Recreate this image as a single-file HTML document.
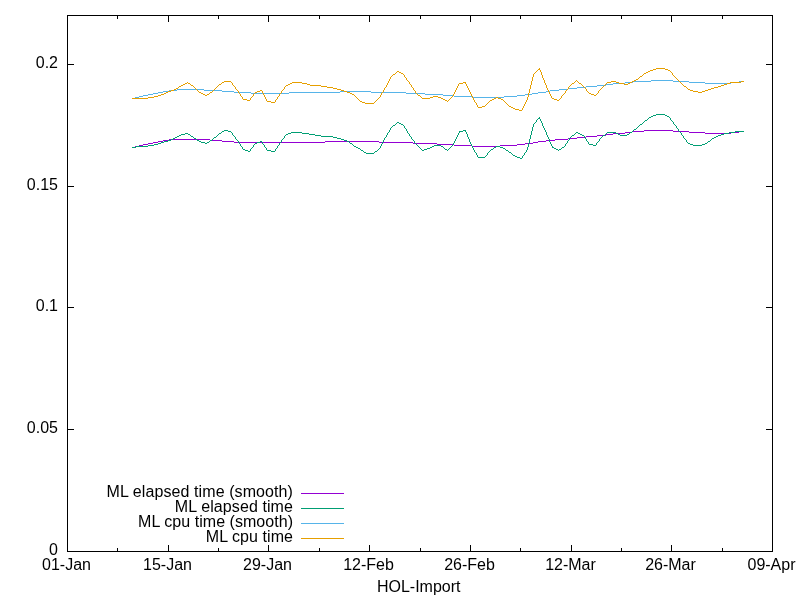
<!DOCTYPE html>
<html lang="en"><head><meta charset="utf-8"><title>HOL-Import</title>
<style>html,body{margin:0;padding:0;background:#fff;overflow:hidden}svg{display:block}</style></head>
<body>
<svg width="800" height="600" viewBox="0 0 800 600">
<rect width="800" height="600" fill="#fff"/>
<g fill="none" stroke="#000" stroke-width="1" shape-rendering="crispEdges"><rect x="67.5" y="15.5" width="705.0" height="536.0"/><path d="M67.0,551.5h7M773.0,551.5h-7M67.0,429.5h7M773.0,429.5h-7M67.0,307.5h7M773.0,307.5h-7M67.0,186.5h7M773.0,186.5h-7M67.0,64.5h7M773.0,64.5h-7M67.5,552.0v-7M67.5,15.0v7M117.5,552.0v-4M117.5,15.0v4M168.5,552.0v-7M168.5,15.0v7M218.5,552.0v-4M218.5,15.0v4M268.5,552.0v-7M268.5,15.0v7M319.5,552.0v-4M319.5,15.0v4M369.5,552.0v-7M369.5,15.0v7M420.5,552.0v-4M420.5,15.0v4M470.5,552.0v-7M470.5,15.0v7M520.5,552.0v-4M520.5,15.0v4M571.5,552.0v-7M571.5,15.0v7M621.5,552.0v-4M621.5,15.0v4M671.5,552.0v-7M671.5,15.0v7M722.5,552.0v-4M722.5,15.0v4M772.5,552.0v-7M772.5,15.0v7"/></g>
<g font-family="'Liberation Sans', Arial, sans-serif" font-size="16" fill="#000">
<text x="58" y="555.0" text-anchor="end">0</text>
<text x="58" y="433.0" text-anchor="end">0.05</text>
<text x="58" y="311.0" text-anchor="end">0.1</text>
<text x="58" y="190.0" text-anchor="end">0.15</text>
<text x="58" y="68.0" text-anchor="end">0.2</text>
<text x="66.5" y="570.3" text-anchor="middle">01-Jan</text>
<text x="167.5" y="570.3" text-anchor="middle">15-Jan</text>
<text x="267.5" y="570.3" text-anchor="middle">29-Jan</text>
<text x="368.5" y="570.3" text-anchor="middle">12-Feb</text>
<text x="469.5" y="570.3" text-anchor="middle">26-Feb</text>
<text x="570.5" y="570.3" text-anchor="middle">12-Mar</text>
<text x="670.5" y="570.3" text-anchor="middle">26-Mar</text>
<text x="771.5" y="570.3" text-anchor="middle">09-Apr</text>
<text x="418.7" y="591.8" text-anchor="middle">HOL-Import</text>
<text x="293" y="496.5" text-anchor="end" letter-spacing="0.09">ML elapsed time (smooth)</text>
<text x="293" y="511.5" text-anchor="end" letter-spacing="0.09">ML elapsed time</text>
<text x="293" y="526.5" text-anchor="end" letter-spacing="0.04">ML cpu time (smooth)</text>
<text x="293" y="541.5" text-anchor="end" letter-spacing="0.06">ML cpu time</text>
</g>
<g fill="none" stroke-width="1" shape-rendering="crispEdges">
<path stroke="#9400D3" d="M301,493.5H344"/>
<path stroke="#009E73" d="M301,508.5H344"/>
<path stroke="#56B4E9" d="M301,523.5H344"/>
<path stroke="#E69F00" d="M301,538.5H344"/>
<path stroke="#9400D3" d="M644,130.5h29M632,131.5h12M673,131.5h16M739,131.5h5M625,132.5h7M689,132.5h16M731,132.5h8M613,133.5h12M705,133.5h26M606,134.5h7M597,135.5h9M586,136.5h11M577,137.5h9M568,138.5h9M169,139.5h41M555,139.5h13M163,140.5h6M210,140.5h12M546,140.5h9M158,141.5h5M222,141.5h12M325,141.5h54M538,141.5h8M153,142.5h5M234,142.5h91M379,142.5h34M533,142.5h5M148,143.5h5M413,143.5h24M525,143.5h8M143,144.5h5M437,144.5h17M517,144.5h8M139,145.5h4M454,145.5h18M500,145.5h17M135,146.5h4M472,146.5h28M132,147.5h3"/>
<path stroke="#009E73" d="M656,114.5h9M653,115.5h3M665,115.5h2M651,116.5h2M667,116.5h2M649,117.5h2M538,118.5h2M645,120.5h2M397,122.5h2M399,123.5h2M401,124.5h2M640,124.5h2M393,125.5h2M634,129.5h2M224,130.5h4M463,130.5h3M222,131.5h2M228,131.5h3M459,131.5h4M735,131.5h9M291,132.5h11M576,132.5h2M607,132.5h9M630,132.5h2M729,132.5h6M185,133.5h3M219,133.5h2M288,133.5h3M302,133.5h7M578,133.5h2M616,133.5h2M724,133.5h5M181,134.5h4M188,134.5h2M286,134.5h2M309,134.5h6M580,134.5h2M618,134.5h2M627,134.5h2M721,134.5h3M179,135.5h2M315,135.5h6M572,135.5h2M582,135.5h2M603,135.5h2M620,135.5h7M718,135.5h3M177,136.5h2M191,136.5h2M321,136.5h12M716,136.5h2M175,137.5h2M214,137.5h2M333,137.5h4M714,137.5h2M173,138.5h2M194,138.5h2M337,138.5h4M712,138.5h2M171,139.5h2M341,139.5h3M168,140.5h3M197,140.5h2M210,140.5h2M344,140.5h3M164,141.5h4M199,141.5h2M260,141.5h2M347,141.5h2M708,141.5h2M161,142.5h3M201,142.5h4M207,142.5h2M257,142.5h3M158,143.5h3M205,143.5h2M255,143.5h2M350,143.5h2M688,143.5h2M705,143.5h2M154,144.5h4M589,144.5h4M690,144.5h3M702,144.5h3M148,145.5h6M434,145.5h7M593,145.5h3M693,145.5h9M136,146.5h12M354,146.5h2M432,146.5h2M441,146.5h2M496,146.5h4M132,147.5h4M356,147.5h2M430,147.5h2M494,147.5h2M500,147.5h3M552,147.5h2M562,147.5h2M358,148.5h2M427,148.5h3M503,148.5h2M554,148.5h2M243,149.5h2M424,149.5h3M445,149.5h2M491,149.5h2M556,149.5h2M559,149.5h2M245,150.5h3M267,150.5h4M361,150.5h2M422,150.5h2M506,150.5h2M248,151.5h2M271,151.5h4M375,151.5h2M364,152.5h2M509,152.5h2M366,153.5h8M513,155.5h2M515,156.5h2M478,157.5h7M517,157.5h3M520,158.5h2M190.5,135v1M193.5,137v1M196.5,139v1M209.5,141v1M212.5,139v1M213.5,138v1M216.5,136v1M217.5,135v1M218.5,134v1M221.5,132v1M231.5,132v1M232.5,133v2M233.5,135v1M234.5,136v1M235.5,137v2M236.5,139v1M237.5,140v1M238.5,141v2M239.5,143v1M240.5,144v2M241.5,146v1M242.5,147v2M250.5,149v2M251.5,148v1M252.5,147v1M253.5,145v2M254.5,144v1M262.5,142v2M263.5,144v1M264.5,145v2M265.5,147v1M266.5,148v2M275.5,149v2M276.5,148v1M277.5,146v2M278.5,145v1M279.5,143v2M280.5,142v1M281.5,140v2M282.5,139v1M283.5,138v1M284.5,136v2M285.5,135v1M349.5,142v1M352.5,144v1M353.5,145v1M360.5,149v1M363.5,151v1M374.5,152v1M377.5,150v1M378.5,149v1M379.5,148v1M380.5,146v2M381.5,144v2M382.5,142v2M383.5,140v2M384.5,138v2M385.5,137v1M386.5,135v2M387.5,133v2M388.5,132v1M389.5,130v2M390.5,128v2M391.5,127v1M392.5,126v1M395.5,124v1M396.5,123v1M403.5,125v1M404.5,126v2M405.5,128v1M406.5,129v2M407.5,131v2M408.5,133v1M409.5,134v2M410.5,136v1M411.5,137v2M412.5,139v1M413.5,140v1M414.5,141v2M415.5,143v1M416.5,144v1M417.5,145v1M418.5,146v1M419.5,147v1M420.5,148v1M421.5,149v1M443.5,147v1M444.5,148v1M447.5,150v1M448.5,149v1M449.5,148v1M450.5,147v1M451.5,146v1M452.5,145v1M453.5,143v2M454.5,141v2M455.5,139v2M456.5,137v2M457.5,135v2M458.5,133v2M459.5,132v1M465.5,131v1M466.5,132v2M467.5,134v3M468.5,137v2M469.5,139v3M470.5,142v2M471.5,144v2M472.5,146v2M473.5,148v2M474.5,150v2M475.5,152v1M476.5,153v2M477.5,155v2M485.5,156v1M486.5,155v1M487.5,153v2M488.5,152v1M489.5,151v1M490.5,150v1M493.5,148v1M505.5,149v1M508.5,151v1M511.5,153v1M512.5,154v1M522.5,156v2M523.5,155v1M524.5,153v2M525.5,152v1M526.5,150v2M527.5,147v3M528.5,143v4M529.5,139v4M530.5,135v4M531.5,131v4M532.5,127v4M533.5,124v3M534.5,123v1M535.5,122v1M536.5,120v2M537.5,119v1M539.5,117v1M540.5,119v2M541.5,121v2M542.5,123v3M543.5,126v2M544.5,128v2M545.5,130v2M546.5,132v3M547.5,135v2M548.5,137v2M549.5,139v3M550.5,142v2M551.5,144v2M552.5,146v1M558.5,150v1M561.5,148v1M564.5,146v1M565.5,144v2M566.5,143v1M567.5,141v2M568.5,140v1M569.5,138v2M570.5,137v1M571.5,136v1M574.5,134v1M575.5,133v1M584.5,136v2M585.5,138v1M586.5,139v2M587.5,141v1M588.5,142v2M596.5,143v2M597.5,142v1M598.5,141v1M599.5,139v2M600.5,138v1M601.5,137v1M602.5,136v1M605.5,134v1M606.5,133v1M629.5,133v1M632.5,131v1M633.5,130v1M636.5,128v1M637.5,127v1M638.5,126v1M639.5,125v1M642.5,123v1M643.5,122v1M644.5,121v1M647.5,119v1M648.5,118v1M669.5,117v1M670.5,118v2M671.5,120v1M672.5,121v1M673.5,122v2M674.5,124v1M675.5,125v1M676.5,126v2M677.5,128v1M678.5,129v2M679.5,131v1M680.5,132v1M681.5,133v2M682.5,135v1M683.5,136v2M684.5,138v1M685.5,139v1M686.5,140v2M687.5,142v1M707.5,142v1M710.5,140v1M711.5,139v1"/>
<path stroke="#56B4E9" d="M651,80.5h22M633,81.5h18M673,81.5h16M739,81.5h5M625,82.5h8M689,82.5h16M731,82.5h8M613,83.5h12M705,83.5h26M606,84.5h7M597,85.5h9M586,86.5h11M577,87.5h9M568,88.5h9M177,89.5h27M559,89.5h9M169,90.5h8M204,90.5h18M550,90.5h9M163,91.5h6M222,91.5h12M340,91.5h31M546,91.5h4M158,92.5h5M234,92.5h17M289,92.5h51M371,92.5h35M538,92.5h8M153,93.5h5M251,93.5h38M406,93.5h19M532,93.5h6M148,94.5h5M425,94.5h18M525,94.5h7M143,95.5h5M443,95.5h11M517,95.5h8M139,96.5h4M454,96.5h19M504,96.5h13M135,97.5h4M473,97.5h31M132,98.5h3"/>
<path stroke="#E69F00" d="M656,68.5h9M538,69.5h2M653,69.5h3M665,69.5h3M650,70.5h3M668,70.5h2M397,71.5h2M648,71.5h2M399,72.5h2M646,72.5h2M401,73.5h2M644,73.5h2M393,74.5h2M640,76.5h2M636,79.5h2M634,80.5h2M224,81.5h7M611,81.5h5M632,81.5h2M741,81.5h3M222,82.5h2M292,82.5h10M463,82.5h3M607,82.5h4M616,82.5h3M630,82.5h2M730,82.5h11M185,83.5h2M188,83.5h2M290,83.5h2M302,83.5h5M459,83.5h4M572,83.5h2M579,83.5h2M619,83.5h5M628,83.5h2M727,83.5h3M183,84.5h2M219,84.5h2M288,84.5h2M307,84.5h3M624,84.5h4M724,84.5h3M181,85.5h2M191,85.5h2M286,85.5h2M310,85.5h11M721,85.5h3M179,86.5h2M321,86.5h6M684,86.5h2M718,86.5h3M327,87.5h6M714,87.5h4M176,88.5h2M333,88.5h4M711,88.5h3M174,89.5h2M337,89.5h4M688,89.5h2M708,89.5h3M171,90.5h3M260,90.5h2M341,90.5h3M690,90.5h3M705,90.5h3M168,91.5h3M257,91.5h3M344,91.5h3M693,91.5h5M702,91.5h3M166,92.5h2M199,92.5h2M210,92.5h2M255,92.5h2M347,92.5h3M698,92.5h4M164,93.5h2M201,93.5h2M350,93.5h2M589,93.5h2M161,94.5h3M203,94.5h2M207,94.5h2M352,94.5h2M591,94.5h3M158,95.5h3M205,95.5h2M418,95.5h2M594,95.5h2M154,96.5h4M433,96.5h5M148,97.5h6M430,97.5h3M438,97.5h3M496,97.5h2M132,98.5h16M422,98.5h8M441,98.5h2M494,98.5h2M498,98.5h3M552,98.5h2M243,99.5h4M443,99.5h2M492,99.5h2M501,99.5h2M554,99.5h3M247,100.5h3M445,100.5h2M490,100.5h2M557,100.5h2M267,101.5h4M360,101.5h2M271,102.5h4M362,102.5h3M365,103.5h9M482,106.5h3M509,106.5h2M478,107.5h4M511,107.5h2M513,108.5h2M515,109.5h4M519,110.5h3M178.5,87v1M187.5,82v1M190.5,84v1M193.5,86v1M194.5,87v1M195.5,88v1M196.5,89v1M197.5,90v1M198.5,91v1M209.5,93v1M212.5,91v1M213.5,90v1M214.5,89v1M215.5,88v1M216.5,87v1M217.5,86v1M218.5,85v1M221.5,83v1M231.5,82v1M232.5,83v2M233.5,85v1M234.5,86v1M235.5,87v2M236.5,89v1M237.5,90v1M238.5,91v2M239.5,93v1M240.5,94v2M241.5,96v1M242.5,97v2M250.5,98v2M251.5,97v1M252.5,96v1M253.5,94v2M254.5,93v1M262.5,91v2M263.5,93v2M264.5,95v2M265.5,97v2M266.5,99v2M275.5,100v2M276.5,99v1M277.5,97v2M278.5,96v1M279.5,94v2M280.5,93v1M281.5,91v2M282.5,90v1M283.5,89v1M284.5,87v2M285.5,86v1M354.5,95v1M355.5,96v1M356.5,97v1M357.5,98v1M358.5,99v1M359.5,100v1M374.5,102v1M375.5,101v1M376.5,100v1M377.5,99v1M378.5,98v1M379.5,97v1M380.5,95v2M381.5,93v2M382.5,92v1M383.5,90v2M384.5,88v2M385.5,87v1M386.5,85v2M387.5,83v2M388.5,81v2M389.5,79v2M390.5,77v2M391.5,76v1M392.5,75v1M395.5,73v1M396.5,72v1M403.5,74v1M404.5,75v2M405.5,77v1M406.5,78v2M407.5,80v1M408.5,81v1M409.5,82v2M410.5,84v1M411.5,85v2M412.5,87v1M413.5,88v2M414.5,90v1M415.5,91v2M416.5,93v1M417.5,94v1M420.5,96v1M421.5,97v1M447.5,101v1M448.5,100v1M449.5,99v1M450.5,98v1M451.5,97v1M452.5,96v1M453.5,94v2M454.5,92v2M455.5,90v2M456.5,88v2M457.5,86v2M458.5,84v2M465.5,83v1M466.5,84v2M467.5,86v2M468.5,88v2M469.5,90v2M470.5,92v2M471.5,94v2M472.5,96v2M473.5,98v2M474.5,100v2M475.5,102v1M476.5,103v2M477.5,105v2M485.5,105v1M486.5,104v1M487.5,103v1M488.5,102v1M489.5,101v1M503.5,100v1M504.5,101v1M505.5,102v1M506.5,103v1M507.5,104v1M508.5,105v1M522.5,108v2M523.5,106v2M524.5,104v2M525.5,102v2M526.5,100v2M527.5,97v3M528.5,93v4M529.5,89v4M530.5,85v4M531.5,81v4M532.5,77v4M533.5,74v3M534.5,73v1M535.5,72v1M536.5,71v1M537.5,70v1M539.5,68v1M540.5,70v2M541.5,72v3M542.5,75v3M543.5,78v2M544.5,80v3M545.5,83v2M546.5,85v3M547.5,88v2M548.5,90v2M549.5,92v2M550.5,94v2M551.5,96v2M559.5,99v1M560.5,98v1M561.5,96v2M562.5,95v1M563.5,94v1M564.5,93v1M565.5,91v2M566.5,90v1M567.5,89v1M568.5,87v2M569.5,86v1M570.5,85v1M571.5,84v1M574.5,82v1M575.5,81v1M576.5,80v1M577.5,81v1M578.5,82v1M581.5,84v1M582.5,85v1M583.5,86v1M584.5,87v1M585.5,88v1M586.5,89v2M587.5,91v1M588.5,92v1M596.5,94v1M597.5,93v1M598.5,91v2M599.5,90v1M600.5,89v1M601.5,88v1M602.5,87v1M603.5,86v1M604.5,85v1M605.5,84v1M606.5,83v1M638.5,78v1M639.5,77v1M642.5,75v1M643.5,74v1M670.5,71v1M671.5,72v1M672.5,73v2M673.5,75v1M674.5,76v1M675.5,77v1M676.5,78v1M677.5,79v1M678.5,80v1M679.5,81v1M680.5,82v1M681.5,83v1M682.5,84v1M683.5,85v1M686.5,87v1M687.5,88v1"/>
</g></svg>
</body></html>
